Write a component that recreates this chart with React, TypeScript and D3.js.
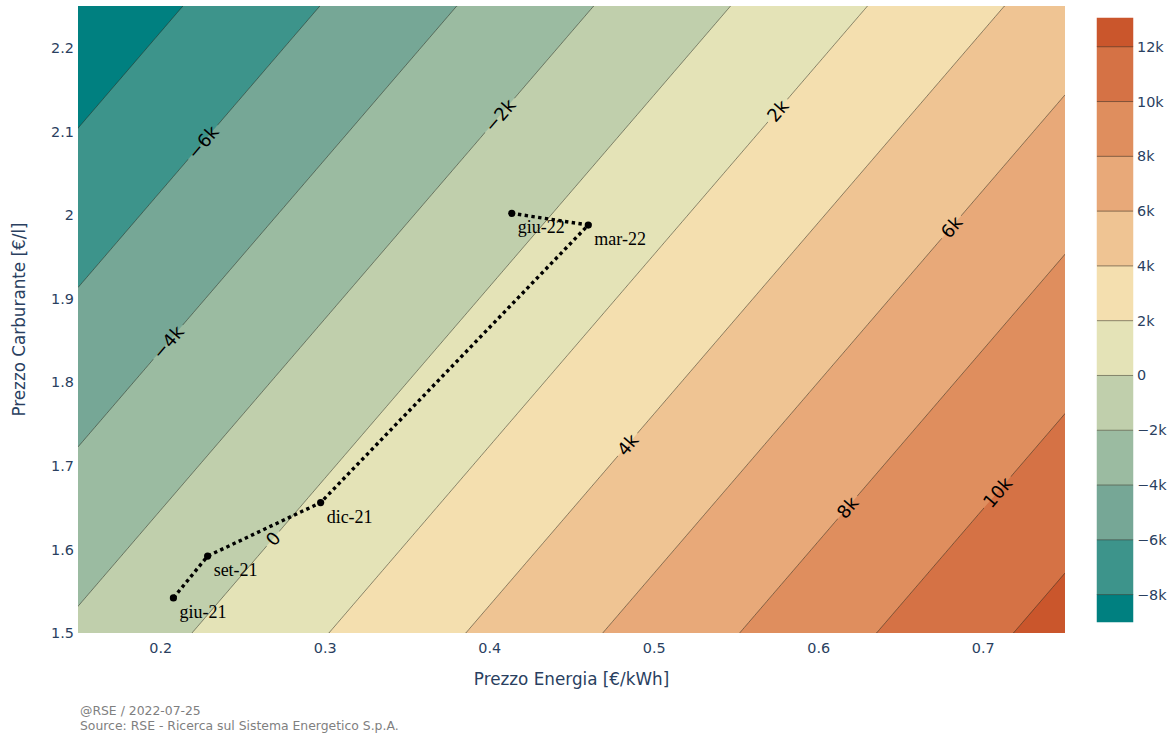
import { useEffect, useRef } from 'react';
import * as d3 from 'd3';

// savings surface, at the corners of the price grid
const energyPrice = [0.15, 0.75];
const fuelPrice = [1.5, 2.25];
const savingsGrid = [
  [-1665, 12753], // fuel 1.5
  [-9533, 4885], // fuel 2.25
];
const levels = [-8000, -6000, -4000, -2000, 0, 2000, 4000, 6000, 8000, 10000, 12000];

// observed months
const months = ['giu-21', 'set-21', 'dic-21', 'mar-22', 'giu-22'];
const monthEnergy = [0.208, 0.2288, 0.2975, 0.4602, 0.4137];
const monthFuel = [1.542, 1.592, 1.656, 1.988, 2.002];

// where the contour labels sit (energy price along each line)
const labelLevels = [-6000, -4000, -2000, 0, 2000, 4000, 6000, 8000, 10000];
const labelEnergy = [0.2259, 0.2047, 0.4064, 0.2685, 0.5753, 0.4841, 0.681, 0.6178, 0.7089];

const xTicks = [0.2, 0.3, 0.4, 0.5, 0.6, 0.7];
const yTicks = [1.5, 1.6, 1.7, 1.8, 1.9, 2, 2.1, 2.2];
const cbarRange = [-9000, 13050];

const geyser = ['rgb(0,128,128)', 'rgb(112,164,148)', 'rgb(180,200,168)', 'rgb(246,237,189)', 'rgb(237,187,138)', 'rgb(222,138,90)', 'rgb(202,86,44)'];

const W = 1173;
const H = 734;
const sans = '"DejaVu Sans", Verdana, sans-serif';
const axisColor = '#2a3f5f';

export default function App() {
  const svgRef = useRef<SVGSVGElement>(null);

  useEffect(() => {
    if (!svgRef.current) return;
    const svg = d3.select(svgRef.current);
    svg.selectAll('*').remove();

    const margin = { top: 6, left: 78, right: 1065, bottom: 633 };
    const x = d3.scaleLinear().domain(energyPrice).range([margin.left, margin.right]);
    const y = d3.scaleLinear().domain(fuelPrice).range([margin.bottom, margin.top]);

    const [x0, x1] = energyPrice;
    const [y0, y1] = fuelPrice;
    const z = (ex: number, fy: number) => {
      const tx = (ex - x0) / (x1 - x0);
      const ty = (fy - y0) / (y1 - y0);
      const bottom = savingsGrid[0][0] * (1 - tx) + savingsGrid[0][1] * tx;
      const top = savingsGrid[1][0] * (1 - tx) + savingsGrid[1][1] * tx;
      return bottom * (1 - ty) + top * ty;
    };

    const band = d3.scaleLinear<string>()
      .domain(d3.range(7).map((k) => k / 6))
      .range(geyser)
      .interpolate(d3.interpolateRgb);
    const bandColor = (i: number) => band(i / levels.length);

    // grid for d3.contours
    const nx = 241;
    const ny = 181;
    const sx = (x1 - x0) / (nx - 1);
    const sy = (y1 - y0) / (ny - 1);
    const values = new Array(nx * ny);
    for (let j = 0; j < ny; j++) {
      for (let i = 0; i < nx; i++) values[j * nx + i] = z(x0 + i * sx, y0 + j * sy);
    }
    const contours = d3.contours().size([nx, ny]).thresholds(levels)(values);
    const path = d3.geoPath(d3.geoTransform({
      point(cx: number, cy: number) {
        this.stream.point(x(x0 + (cx - 0.5) * sx), y(y0 + (cy - 0.5) * sy));
      },
    }));

    const defs = svg.append('defs');
    defs.append('clipPath').attr('id', 'plot-clip')
      .append('rect')
      .attr('x', margin.left).attr('y', margin.top)
      .attr('width', margin.right - margin.left).attr('height', margin.bottom - margin.top);
    const mask = defs.append('mask').attr('id', 'label-gaps').attr('maskUnits', 'userSpaceOnUse')
      .attr('x', 0).attr('y', 0).attr('width', W).attr('height', H);
    mask.append('rect').attr('width', W).attr('height', H).attr('fill', '#fff');

    const plot = svg.append('g').attr('clip-path', 'url(#plot-clip)');
    plot.append('rect')
      .attr('x', margin.left).attr('y', margin.top)
      .attr('width', margin.right - margin.left).attr('height', margin.bottom - margin.top)
      .attr('fill', bandColor(0));
    plot.append('g').selectAll('path')
      .data(contours)
      .join('path')
      .attr('d', (d) => path(d))
      .attr('fill', (_, i) => bandColor(i + 1));
    plot.append('g').attr('mask', 'url(#label-gaps)').selectAll('path')
      .data(contours)
      .join('path')
      .attr('d', (d) => path(d))
      .attr('fill', 'none')
      .attr('stroke', 'rgba(40,40,30,0.5)')
      .attr('stroke-width', 1);

    // contour labels, rotated along the lines
    const a = (savingsGrid[0][1] - savingsGrid[0][0]) / (x1 - x0);
    const b = (savingsGrid[1][0] - savingsGrid[0][0]) / (y1 - y0);
    const kx = (margin.right - margin.left) / (x1 - x0);
    const ky = (margin.bottom - margin.top) / (y1 - y0);
    const angle = (Math.atan2(-a * ky, -b * kx) * 180) / Math.PI;
    const fmt = d3.format('~s');
    labelLevels.forEach((lv, k) => {
      const ex = labelEnergy[k];
      const fy = y0 + (lv - savingsGrid[0][0] - a * (ex - x0)) / b;
      const px = x(ex);
      const py = y(fy);
      const t = svg.append('text')
        .attr('transform', `translate(${px},${py}) rotate(${angle})`)
        .attr('text-anchor', 'middle')
        .attr('dominant-baseline', 'central')
        .attr('font-family', sans)
        .attr('font-size', 18)
        .attr('fill', '#000')
        .text(fmt(lv));
      const len = (t.node() as SVGTextElement).getComputedTextLength();
      mask.append('rect')
        .attr('x', -len / 2 - 4).attr('y', -10)
        .attr('width', len + 8).attr('height', 20)
        .attr('transform', `translate(${px},${py}) rotate(${angle})`)
        .attr('fill', '#000');
    });

    // monthly path
    const pts = months.map((m, i) => ({ m, ex: monthEnergy[i], fy: monthFuel[i] }));
    svg.append('path')
      .datum(pts)
      .attr('d', d3.line<{ ex: number; fy: number }>().x((d) => x(d.ex)).y((d) => y(d.fy)))
      .attr('fill', 'none')
      .attr('stroke', '#000')
      .attr('stroke-width', 3.4)
      .attr('stroke-dasharray', '3.4,3.4');
    svg.append('g').selectAll('circle')
      .data(pts)
      .join('circle')
      .attr('cx', (d) => x(d.ex))
      .attr('cy', (d) => y(d.fy))
      .attr('r', 3.6)
      .attr('fill', '#000');
    svg.append('g').selectAll('text')
      .data(pts)
      .join('text')
      .attr('x', (d) => x(d.ex) + 6)
      .attr('y', (d) => y(d.fy) + 20)
      .attr('font-family', '"Liberation Serif", "Times New Roman", serif')
      .attr('font-size', 18)
      .attr('fill', '#000')
      .text((d) => d.m);

    // axes
    const xAxis = svg.append('g')
      .attr('transform', `translate(0,${margin.bottom})`)
      .call(d3.axisBottom(x).tickValues(xTicks).tickSize(0).tickPadding(10).tickFormat(d3.format('.1f')));
    const yAxis = svg.append('g')
      .attr('transform', `translate(${margin.left},0)`)
      .call(d3.axisLeft(y).tickValues(yTicks).tickSize(0).tickPadding(4).tickFormat(d3.format('~g')));
    [xAxis, yAxis].forEach((ax) => {
      ax.select('.domain').remove();
      ax.selectAll('.tick text')
        .attr('fill', axisColor)
        .attr('font-family', sans)
        .attr('font-size', 14.4);
    });

    svg.append('text')
      .attr('x', (margin.left + margin.right) / 2)
      .attr('y', 685)
      .attr('text-anchor', 'middle')
      .attr('font-family', sans)
      .attr('font-size', 16.8)
      .attr('fill', axisColor)
      .text('Prezzo Energia [€/kWh]');
    svg.append('text')
      .attr('transform', `translate(25,${(margin.top + margin.bottom) / 2}) rotate(-90)`)
      .attr('text-anchor', 'middle')
      .attr('font-family', sans)
      .attr('font-size', 16.8)
      .attr('fill', axisColor)
      .text('Prezzo Carburante [€/l]');

    // colorbar
    const cbX = 1097;
    const cbW = 36;
    const cb = d3.scaleLinear().domain(cbarRange).range([622, 18]);
    const edges = [cbarRange[0], ...levels, cbarRange[1]];
    const cbar = svg.append('g');
    cbar.selectAll('rect')
      .data(d3.pairs(edges))
      .join('rect')
      .attr('x', cbX)
      .attr('width', cbW)
      .attr('y', (d) => cb(d[1]))
      .attr('height', (d) => cb(d[0]) - cb(d[1]))
      .attr('fill', (_, i) => bandColor(i))
      .attr('stroke', (_, i) => bandColor(i))
      .attr('stroke-width', 0.5);
    cbar.selectAll('line')
      .data(levels)
      .join('line')
      .attr('x1', cbX).attr('x2', cbX + cbW)
      .attr('y1', (d) => cb(d)).attr('y2', (d) => cb(d))
      .attr('stroke', 'rgba(40,40,30,0.5)')
      .attr('stroke-width', 1);
    cbar.selectAll('text')
      .data(levels)
      .join('text')
      .attr('x', cbX + cbW + 4)
      .attr('y', (d) => cb(d))
      .attr('dominant-baseline', 'central')
      .attr('font-family', sans)
      .attr('font-size', 14.4)
      .attr('fill', axisColor)
      .text((d) => fmt(d));

    // footer
    const foot = svg.append('g')
      .attr('font-family', sans)
      .attr('font-size', 12.4)
      .attr('fill', '#7f7f7f');
    foot.append('text').attr('x', 80).attr('y', 715).text('@RSE / 2022-07-25');
    foot.append('text').attr('x', 80).attr('y', 730).text('Source: RSE - Ricerca sul Sistema Energetico S.p.A.');
  }, []);

  return (
    <svg
      ref={svgRef}
      width={W}
      height={H}
      viewBox={`0 0 ${W} ${H}`}
      style={{ position: 'absolute', left: 0, top: 0, background: '#fff' }}
    />
  );
}
